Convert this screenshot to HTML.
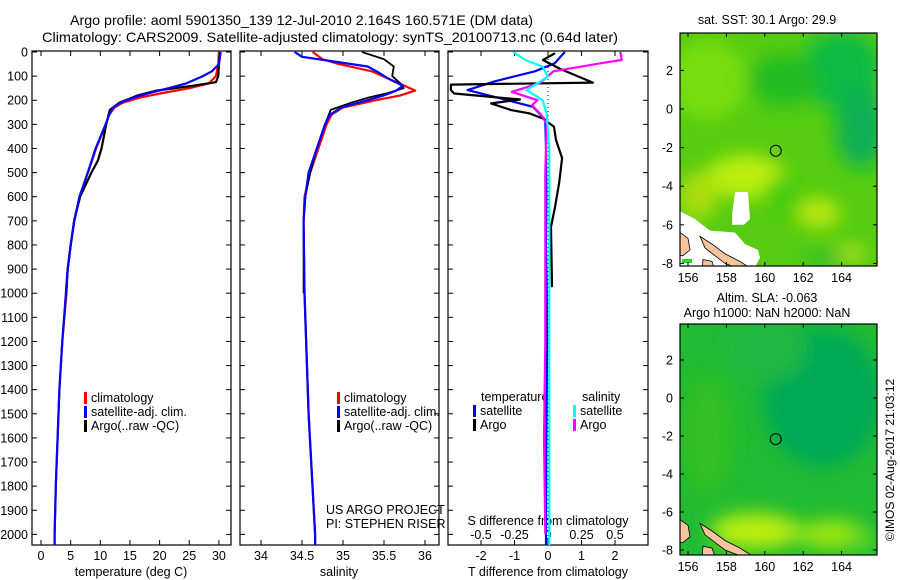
<!DOCTYPE html>
<html><head><meta charset="utf-8"><style>
body{margin:0;background:#fff;}
svg{display:block;font-family:"Liberation Sans",sans-serif;}
</style></head><body>
<svg id="fig" width="900" height="580" viewBox="0 0 900 580" xmlns="http://www.w3.org/2000/svg">
<defs>
<clipPath id="c1"><rect x="32" y="51" width="199" height="494"/></clipPath>
<clipPath id="c2"><rect x="240" y="51" width="199" height="494"/></clipPath>
<clipPath id="c3"><rect x="448" y="51" width="200" height="494"/></clipPath>
<clipPath id="m1"><rect x="680" y="33" width="197" height="233"/></clipPath>
<clipPath id="m2"><rect x="680" y="324" width="197" height="231"/></clipPath>
<filter id="bl" x="-50%" y="-50%" width="200%" height="200%"><feGaussianBlur stdDeviation="9"/></filter>
</defs>
<text x="70" y="25" font-size="14" textLength="463" lengthAdjust="spacingAndGlyphs">Argo profile: aoml 5901350_139 12-Jul-2010 2.164S 160.571E (DM data)</text>
<text x="42" y="42" font-size="14" textLength="576" lengthAdjust="spacingAndGlyphs">Climatology: CARS2009. Satellite-adjusted climatology: synTS_20100713.nc (0.64d later)</text>
<g id="axes"></g>
<g id="series"></g>
<g id="maps"></g>
</svg>
<script>
// ---- data ----
const depthTicks=[0,100,200,300,400,500,600,700,800,900,1000,1100,1200,1300,1400,1500,1600,1700,1800,1900,2000];
const tempTicks=[0,5,10,15,20,25,30];
const salTicks=[34,34.5,35,35.5,36];
const salTickLabels=["34","34.5","35","35.5","36"];
const tdTicks=[-2,-1,0,1,2];
const sdTicks=[-0.5,-0.25,0,0.25,0.5];
const sdTickLabels=["-0.5","-0.25","0","0.25","0.5"];
const latTicks=[2,0,-2,-4,-6,-8];
const lonTicks=[156,158,160,162,164];

const tempClimDepth=[0,50,100,130,150,170,190,210,230,260,300,400,450,500,600,700,800,900,1000,1200,1400,1600,1800,2000,2050];
const tempClim=[30.0,29.9,29.5,28.3,25,20.5,16.5,13.8,12.4,11.5,10.9,9.3,8.6,7.9,6.5,5.6,5.0,4.5,4.3,3.6,3.1,2.8,2.5,2.3,2.3];
const tempSatDepth=[0,50,80,100,130,150,170,190,210,230,260,300,400,500,600,700,800,900,1000,1200,1400,1600,1800,2000,2050];
const tempSat=[30.3,30.0,28.8,27.3,24.5,21.5,18.3,15.5,13.3,12.2,11.5,10.9,9.2,7.9,6.5,5.6,5.0,4.5,4.2,3.6,3.1,2.8,2.5,2.3,2.3];
const tempArgoDepth=[0,50,100,125,140,160,180,210,240,300,400,450,500,600,700,800,900,1000];
const tempArgo=[30.2,30.0,29.9,29.5,25.5,19.5,16.3,13.2,11.6,11.0,10.2,9.6,8.5,6.6,5.6,5.0,4.5,4.2];

const salClimDepth=[0,30,50,80,110,140,160,180,200,230,260,300,400,500,600,700,1000,1500,2000,2050];
const salClim=[34.63,34.75,34.95,35.35,35.55,35.75,35.88,35.7,35.4,35.0,34.86,34.8,34.7,34.6,34.53,34.52,34.53,34.58,34.66,34.66];
const salSatDepth=[0,20,40,60,80,110,140,160,180,200,230,260,300,400,500,600,700,1000,1500,2000,2050];
const salSat=[34.41,34.5,34.9,35.3,35.41,35.55,35.73,35.65,35.5,35.3,34.98,34.84,34.78,34.68,34.58,34.54,34.52,34.53,34.58,34.66,34.66];
const salArgoDepth=[0,30,60,100,130,150,170,190,210,240,300,400,500,600,700,1000];
const salArgo=[35.23,35.5,35.62,35.6,35.7,35.74,35.55,35.3,35.1,34.85,34.78,34.68,34.6,34.54,34.52,34.52];

const tdSatDepth=[0,47,80,122,158,193,227,282,400,600,800,1000,1300,1600,2000,2050];
const tdSat=[0.5,0.2,-0.39,-1.6,-2.4,-1.4,-0.45,-0.08,-0.06,-0.05,-0.06,-0.04,-0.03,-0.05,-0.06,-0.06];
const tdArgoDepth=[5,33,70,127,135,158,172,197,213,241,255,276,310,365,440,544,643,725,975];
const tdArgo=[0.21,-0.15,0.36,1.34,-2.9,-2.9,-2.8,-0.84,-1.7,-1.1,-0.54,-0.15,0.18,0.24,0.42,0.33,0.21,0.09,0.12];
const sdSatDepth=[0,33,61,102,158,200,255,400,700,1000,1400,1800,2050];
const sdSat=[-0.26,-0.17,-0.04,0,-0.16,-0.04,-0.01,0.01,0.01,0.01,0.01,0.01,0.01];
const sdArgoDepth=[0,33,47,80,129,165,200,221,255,295,500,800,1200,1600,2000];
const sdArgo=[0.54,0.55,0.39,0.04,-0.06,-0.27,-0.08,-0.12,-0.06,-0.01,-0.02,-0.02,-0.02,-0.03,-0.02];

// ---- scales ----
const yD=d=>52+d*0.2412;
const xT=t=>41+t*5.93;
const xS=s=>261+(s-34)*82;
const xTd=v=>548+v*33.5;
const xSd=v=>548+v*134;
const xLon=l=>688+(l-156)*19.2;
const yLat1=l=>109-l*19.3;
const yLat2=l=>398-l*19.0;

const NS='http://www.w3.org/2000/svg';
const axes=document.getElementById('axes'), series=document.getElementById('series'), maps=document.getElementById('maps');
function mk(tag,parent,attrs){const e=document.createElementNS(NS,tag);for(const k in attrs)e.setAttribute(k,attrs[k]);parent.appendChild(e);return e;}

// panels
const panels=[[32,'temperature-panel'],[240,'salinity-panel'],[448,'difference-panel']];
panels.forEach(([x,n])=>{
  const r=mk('rect',axes,{x:x,y:51,width:(x==448?200:199),height:494,fill:'none',stroke:'#000','stroke-width':1.2});
  
  
  depthTicks.forEach(d=>{
    mk('line',axes,{x1:x,x2:x+5,y1:yD(d),y2:yD(d),stroke:'#000'});
    mk('line',axes,{x1:x+(x==448?200:199)-5,x2:x+(x==448?200:199),y1:yD(d),y2:yD(d),stroke:'#000'});
  });
});
depthTicks.forEach(d=>{
  const t=mk('text',axes,{x:28,y:yD(d)+4.5,'font-size':12.5,'text-anchor':'end'});
  
  
  t.textContent=d;
});
function xticks(vals,labels,fx,prefix){
  vals.forEach((v,i)=>{
    const x=fx(v);
    mk('line',axes,{x1:x,x2:x,y1:545,y2:540,stroke:'#000'});
    mk('line',axes,{x1:x,x2:x,y1:51,y2:56,stroke:'#000'});
    const t=mk('text',axes,{x:x,y:560,'font-size':12.5,'text-anchor':'middle'});
    
    
    t.textContent=labels[i];
  });
}
xticks(tempTicks,tempTicks,xT,'temperature');
xticks(salTicks,salTickLabels,xS,'salinity');
xticks(tdTicks,tdTicks,xTd,'t-diff');
sdTicks.forEach((v,i)=>{
  const x=xSd(v);
  mk('line',axes,{x1:x,x2:x,y1:545,y2:541,stroke:'#000'});
  const t=mk('text',axes,{x:x,y:539,'font-size':12.5,'text-anchor':'middle'});
  
  
  t.textContent=sdTickLabels[i];
});
function label(txt,x,y,name,anchor,size){const t=mk('text',axes,{x:x,y:y,'font-size':size||12.5,'text-anchor':anchor||'middle'});t.textContent=txt;return t;}
label('temperature (deg C)',131,576,'temperature-axis-title');
label('salinity',339,576,'salinity-axis-title');
label('T difference from climatology',548,576,'t-diff-axis-title');
label('S difference from climatology',548,525,'s-diff-axis-title');
label('US ARGO PROJECT',326,514,'credit-project','start');
label('PI: STEPHEN RISER',326,528,'credit-pi','start');
// zero dotted line
mk('line',axes,{x1:548,x2:548,y1:51,y2:545,stroke:'#000','stroke-dasharray':'1,3'});

// series
function line(ds,vs,fx,color,clip,name,w){
  const p=ds.map((d,i)=>(i?'L':'M')+fx(vs[i]).toFixed(1)+','+yD(d).toFixed(1)).join('');
  const e=mk('path',series,{d:p,fill:'none',stroke:color,'stroke-width':w||2.2,'clip-path':'url(#'+clip+')','stroke-linejoin':'round'});
  
  
}
line(tempClimDepth,tempClim,xT,'#ff0000','c1','temp-climatology-line');
line(tempArgoDepth,tempArgo,xT,'#000000','c1','temp-argo-line');
line(tempSatDepth,tempSat,xT,'#0000ff','c1','temp-satellite-line');
line(salClimDepth,salClim,xS,'#ff0000','c2','sal-climatology-line');
line(salArgoDepth,salArgo,xS,'#000000','c2','sal-argo-line',1.8);
line(salSatDepth,salSat,xS,'#0000ff','c2','sal-satellite-line');
line(tdSatDepth,tdSat,xTd,'#0000ff','c3','tdiff-satellite-line');
line(tdArgoDepth,tdArgo,xTd,'#000000','c3','tdiff-argo-line');
line(sdArgoDepth,sdArgo,xSd,'#ff00ff','c3','sdiff-argo-line');
line(sdSatDepth,sdSat,xSd,'#00ffff','c3','sdiff-satellite-line');

// legends
function leg(x,y,color,txt,name){
  mk('rect',axes,{x:x,y:y-10,width:3,height:12,fill:color});
  const t=label(txt,x+7,y,name,'start',12.5);
}
leg(84,402,'#ff0000','climatology','legend-climatology');
leg(84,416,'#0000ff','satellite-adj. clim.','legend-satellite');
leg(84,430,'#000','Argo(..raw -QC)','legend-argo');
leg(337,402,'#ff0000','climatology','legend2-climatology');
leg(337,416,'#0000ff','satellite-adj. clim.','legend2-satellite');
leg(337,430,'#000','Argo(..raw -QC)','legend2-argo');
label('temperature',481,401,'legend-temperature-heading','start');
leg(473,415,'#0000ff','satellite','legend-t-satellite');
leg(473,429,'#000','Argo','legend-t-argo');
label('salinity',582,401,'legend-salinity-heading','start');
leg(573,415,'#00ffff','satellite','legend-s-satellite');
leg(573,429,'#ff00ff','Argo','legend-s-argo');

// maps
function mapFrame(y0,h,yL,name,clip,blobs,base){
  const g=mk('g',maps,{'clip-path':'url(#'+clip+')'});
  
  
  mk('rect',g,{x:680,y:y0,width:197,height:h,fill:base});
  const gb=mk('g',g,{filter:'url(#bl)'});
  blobs.forEach(b=>mk('ellipse',gb,{cx:xLon(b[0]),cy:yL(b[1]),rx:b[2],ry:b[3],fill:b[4]}));
  return g;
}
const g1=mapFrame(33,233,yLat1,'sst-map','m1',[
 [157,1.5,40,40,'#77dd11'],[164,2,40,40,'#11bb44'],[165,-1,25,40,'#11b055'],[161,1.5,35,25,'#22bb22'],
 [159,-3.5,40,22,'#bbee11'],[156.5,-4.5,20,25,'#aadd11'],[162.8,-5.4,22,15,'#bbe811'],[161,-4.5,20,20,'#44cc11'],
 [164.5,-7.5,15,10,'#aadd22'],[163,-7.8,20,8,'#33bb33']],'#55cc11');
mk('path',g1,{d:`M680,${yLat1(-5.3)} L695,${yLat1(-5.7)} L710,${yLat1(-6.3)} L735,${yLat1(-6.4)} L745,${yLat1(-7)} L758,${yLat1(-7.3)} L760,${yLat1(-7.7)} L752,${yLat1(-8.5)} L680,${yLat1(-8.5)}Z`,fill:'#fff'});
mk('path',g1,{d:`M732,${yLat1(-5.5)} L735,${yLat1(-4.3)} L748,${yLat1(-4.3)} L750,${yLat1(-5.7)} L744,${yLat1(-6)} L732,${yLat1(-6)}Z`,fill:'#fff'});
function land(g,yL){
  mk('path',g,{d:`M680,${yL(-6.4)} L688,${yL(-6.7)} L690,${yL(-7.3)} L683,${yL(-7.6)} L680,${yL(-7.6)}Z`,fill:'#f5c49c',stroke:'#000','stroke-width':0.8});
  mk('path',g,{d:`M700,${yL(-6.6)} L712,${yL(-7)} L725,${yL(-7.5)} L740,${yL(-7.9)} L752,${yL(-8.3)} L745,${yL(-8.4)} L725,${yL(-8)} L705,${yL(-7.2)}Z`,fill:'#f5c49c',stroke:'#000','stroke-width':0.8});
  mk('path',g,{d:`M703,${yL(-7.8)} L712,${yL(-7.9)} L716,${yL(-8.5)} L702,${yL(-8.5)}Z`,fill:'#f5c49c',stroke:'#000','stroke-width':0.8});
}
land(g1,yLat1);
mk('rect',g1,{x:682,y:259,width:10,height:4,fill:'#22dd22'});
const g2=mapFrame(324,231,yLat2,'sla-map','m2',[
 [163,0,60,70,'#00aa55'],[160,2.5,40,30,'#22b844'],[157,-2,25,60,'#33c022'],[159.5,-7,45,18,'#bbee11'],
 [163.5,-7.2,35,15,'#99e611'],[165,-7.5,15,10,'#66d822']],'#22bb33');
land(g2,yLat2);
[[g1,yLat1,33,266],[g2,yLat2,324,555]].forEach(([g,yL,t,b],k)=>{
  mk('rect',maps,{x:680,y:t,width:197,height:b-t,fill:'none',stroke:'#000','stroke-width':1.2});
  latTicks.forEach(l=>{
    mk('line',maps,{x1:680,x2:684,y1:yL(l),y2:yL(l),stroke:'#000'});
    mk('line',maps,{x1:873,x2:877,y1:yL(l),y2:yL(l),stroke:'#000'});
    const tx=mk('text',maps,{x:673,y:yL(l)+4.5,'font-size':12.5,'text-anchor':'end'});
    
    
    tx.textContent=l;
  });
  lonTicks.forEach(l=>{
    mk('line',maps,{x1:xLon(l),x2:xLon(l),y1:b,y2:b-4,stroke:'#000'});
    mk('line',maps,{x1:xLon(l),x2:xLon(l),y1:t,y2:t+4,stroke:'#000'});
    const tx=mk('text',maps,{x:xLon(l),y:b+16,'font-size':12.5,'text-anchor':'middle'});
    
    
    tx.textContent=l;
  });
  const c=mk('circle',maps,{cx:xLon(160.571),cy:yL(-2.164),r:5.5,fill:'none',stroke:'#000','stroke-width':1});
  
  
});
label('sat. SST: 30.1  Argo: 29.9',767,24,'sst-map-title','middle',12.5);
label('Altim. SLA: -0.063',767,302,'sla-map-title','middle',12.5);
label('Argo h1000: NaN h2000: NaN',767,317,'sla-map-subtitle','middle',12.5);
const ct=label('©IMOS 02-Aug-2017 21:03:12',0,0,'timestamp','middle',12);
ct.setAttribute('transform','translate(894,460) rotate(-90)');
</script>
</body></html>
